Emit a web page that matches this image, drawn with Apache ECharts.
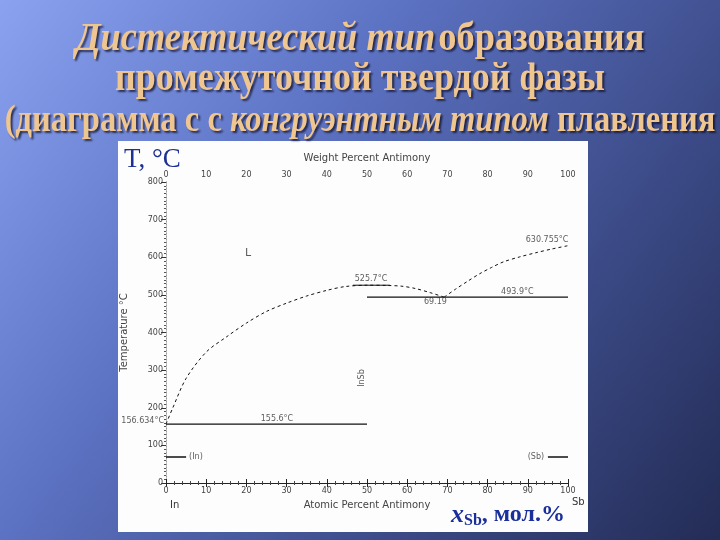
<!DOCTYPE html>
<html><head><meta charset="utf-8">
<script src="https://cdn.jsdelivr.net/npm/echarts@6/dist/echarts.min.js"></script>
<style>html,body{margin:0;padding:0;background:#2c3868}#c{width:720px;height:540px}</style>
</head><body><div id="c"></div>
<script>
// ---- data ----
const liquidusLeft = [[0,156.634],[1.7,200],[5,278],[10,348],[15,388],[20,425],[25,456],[30,478],[35,497],[40,512],[44.5,522],[50,525.7],[55,525],[58.7,523],[62,517],[65.7,506],[69.2,494]];
const liquidusRight = [[69.2,494],[72,515],[75,536],[78,556],[81,573],[84,588],[88,601],[92,612],[96,622],[100,630.755]];
const congruentFlat = [[46.5,525.7],[55.7,525.7]];
const eutecticLeft = [[0,156.6],[50,156.6]];
const eutecticRight = [[50,494],[100,494]];
const inMarker = [[0,69],[5,69]];
const sbMarker = [[95,69],[100,69]];
const annText = ['156.634°C','155.6°C','525.7°C','69.19','493.9°C','630.755°C','L','InSb','(In)','(Sb)'];
const annX = [0,27.6,50.5,68,87.4,94.8,20.4,48.8,5.5,94.3];
const annY = [156.634,156.6,525.7,494,494,630.755,611,279,69,69];
const xTickLabels = ['0','10','20','30','40','50','60','70','80','90','100'];
const yTickLabels = ['0','100','200','300','400','500','600','700','800'];

// ---- styles (separate from data) ----
const annStyle = [
  {align:'right', offset:[-2,-3]},
  {align:'center', offset:[0,-5]},
  {align:'center', offset:[2,-6]},
  {align:'center', offset:[-4,5]},
  {align:'center', offset:[0,-5]},
  {align:'center', offset:[0,-6]},
  {align:'center', offset:[0,0], fontSize:11},
  {align:'center', offset:[0,0], rotate:90},
  {align:'left', offset:[1,0]},
  {align:'right', offset:[-1,0]}
];

const chart = echarts.init(document.getElementById('c'), null, {renderer:'canvas'});
const tickFont = {fontFamily:'DejaVu Sans', fontSize:8, color:'#444'};
const gold = '#f0c690';
const titleFont = 'Liberation Serif';
function tStyle(size, italic){
  return {fontFamily:titleFont, fontSize:size, fontWeight:'bold', fontStyle: italic?'italic':'normal', fill:gold,
    textShadowColor:'rgba(15,15,40,0.75)', textShadowOffsetX:2, textShadowOffsetY:2, textShadowBlur:2};
}

const ann = annText.map((t,i)=>{
  const s = annStyle[i];
  return {value:[annX[i],annY[i]], name:t, label:{show:true, position:'inside', formatter:t,
    align:s.align, verticalAlign:'middle', offset:s.offset, rotate:s.rotate||0,
    fontFamily:'DejaVu Sans', fontSize:s.fontSize||8, color:'#333'}};
});

function lineSeries(data, dashed, width){
  return {type:'line', data, symbol:'none', smooth: dashed ? 0.3 : false, silent:true,
    lineStyle:{color:'#111', width:width||1, type: dashed ? [3,3] : 'solid'}, z:5};
}

chart.setOption({
  animation:false,
  graphic:[
    {type:'rect', z:-20, silent:true, shape:{x:0,y:0,width:720,height:540},
      style:{fill:{type:'linear',x:0,y:0,x2:1,y2:1,colorStops:[
        {offset:0,color:'#8aa2f0'},{offset:0.35,color:'#5d73c4'},{offset:0.7,color:'#3c4b88'},{offset:1,color:'#232c55'}]}}},
    {type:'rect', z:-10, silent:true, shape:{x:118,y:141,width:470,height:391}, style:{fill:'#fdfdfd'}},
    {type:'text', z:50, x:360, y:40, scaleX:0.91, style:{
      text:'{i|Дистектический тип} {n|образования}', align:'center', verticalAlign:'middle',
      rich:{i:tStyle(40,true), n:tStyle(40,false)}}},
    {type:'text', z:50, x:360, y:80, scaleX:0.9, style:{
      text:'{n|промежуточной твердой фазы}', align:'center', verticalAlign:'middle',
      rich:{n:tStyle(40,false)}}},
    {type:'text', z:50, x:360, y:121, scaleX:0.88, style:{
      text:'{n|(диаграмма с с }{i|конгруэнтным типом}{n| плавления}', align:'center', verticalAlign:'middle',
      rich:{i:tStyle(37,true), n:tStyle(37,false)}}},
    {type:'text', z:50, x:124, y:146, style:{text:'T, °C', fontFamily:titleFont, fontSize:27, fill:'#1e2f96'}},
    {type:'text', z:50, x:451, y:501, style:{
      text:'{x|x}{s|Sb}{n|, мол.%}',
      rich:{x:{fontFamily:titleFont,fontSize:26,fontStyle:'italic',fontWeight:'bold',fill:'#1b2f9c'},
            s:{fontFamily:titleFont,fontSize:16,fontWeight:'bold',fill:'#1b2f9c',padding:[12,0,0,0]},
            n:{fontFamily:titleFont,fontSize:24,fontWeight:'bold',fill:'#1b2f9c'}}}},
    {type:'text', z:50, x:170, y:500, style:{text:'In', fontFamily:'DejaVu Sans', fontSize:10, fill:'#333'}},
    {type:'text', z:50, x:572, y:497, style:{text:'Sb', fontFamily:'DejaVu Sans', fontSize:10, fill:'#333'}}
  ],
  grid:{left:166, right:152, top:182, bottom:57, containLabel:false},
  xAxis:[
    {type:'value', position:'bottom', min:0, max:100, interval:10,
      name:'Atomic Percent Antimony', nameLocation:'middle', nameGap:17,
      nameTextStyle:{fontFamily:'DejaVu Sans', fontSize:10, color:'#444'},
      axisLine:{lineStyle:{color:'#222', width:1}},
      axisTick:{inside:true, length:4, lineStyle:{color:'#222'}},
      minorTick:{show:true, splitNumber:5, length:2, lineStyle:{color:'#444'}},
      axisLabel:{...tickFont, margin:4, formatter:(v)=>xTickLabels[Math.round(v/10)]},
      splitLine:{show:false}},
    {type:'value', position:'top', min:0, max:100, interval:10,
      name:'Weight Percent Antimony', nameLocation:'middle', nameGap:19,
      nameTextStyle:{fontFamily:'DejaVu Sans', fontSize:10, color:'#444'},
      axisLine:{lineStyle:{color:'#222', width:1}},
      axisTick:{inside:true, length:4, lineStyle:{color:'#222'}},
      minorTick:{show:true, splitNumber:5, length:2, lineStyle:{color:'#444'}},
      axisLabel:{...tickFont, margin:3, formatter:(v)=>xTickLabels[Math.round(v/10)]},
      splitLine:{show:false}}
  ],
  yAxis:[
    {type:'value', position:'left', min:0, max:800, interval:100,
      name:'Temperature °C', nameLocation:'middle', nameGap:37, nameRotate:90,
      nameTextStyle:{fontFamily:'DejaVu Sans', fontSize:10, color:'#444'},
      axisLine:{lineStyle:{color:'#999', width:1, type:[1,2]}},
      axisTick:{inside:false, length:4, lineStyle:{color:'#333'}},
      minorTick:{show:true, splitNumber:10, length:2, lineStyle:{color:'#555'}},
      axisLabel:{...tickFont, margin:3, formatter:(v)=>yTickLabels[Math.round(v/100)]},
      splitLine:{show:false}},
    {type:'value', position:'right', min:0, max:800, interval:100,
      axisLine:{lineStyle:{color:'#999', width:1, type:[1,2]}},
      axisTick:{inside:true, length:5, lineStyle:{color:'#333'}},
      minorTick:{show:true, splitNumber:10, length:2, lineStyle:{color:'#555'}},
      axisLabel:{show:false},
      splitLine:{show:false}}
  ],
  series:[
    lineSeries(liquidusLeft, true),
    lineSeries(liquidusRight, true),
    lineSeries(congruentFlat, false),
    lineSeries(eutecticLeft, false, 1.2),
    lineSeries(eutecticRight, false, 1.2),
    lineSeries(inMarker, false, 1.5),
    lineSeries(sbMarker, false, 1.5),
    {type:'scatter', data:ann, symbolSize:0, silent:true, z:6}
  ]
});
</script></body></html>
